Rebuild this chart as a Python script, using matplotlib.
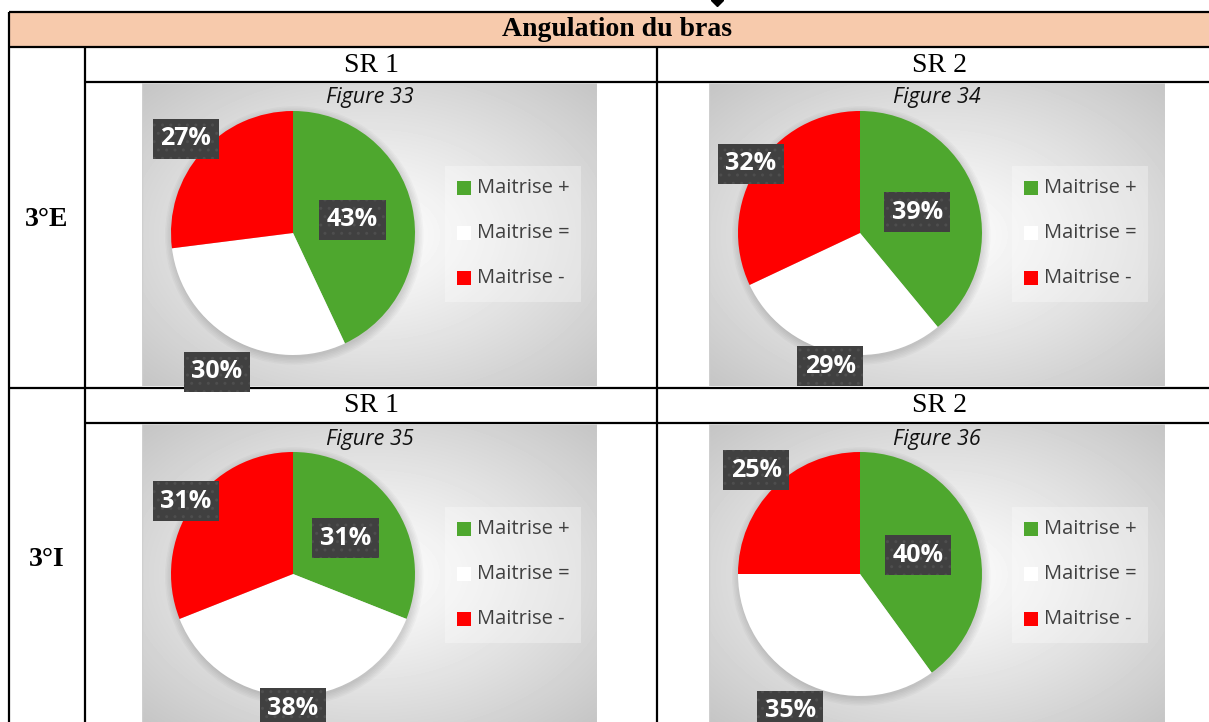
import numpy as np
import matplotlib
matplotlib.use("Agg")
import matplotlib.pyplot as plt
from matplotlib.patches import Rectangle, Circle

W, H = 1209, 722

# ------------------------------------------------------------------
# Data
# ------------------------------------------------------------------
categories = ["Maitrise +", "Maitrise =", "Maitrise -"]
slice_colors = ["#4ea72e", "#ffffff", "#ff0000"]

fig33 = [43, 30, 27]
fig34 = [39, 29, 32]
fig35 = [31, 38, 31]
fig36 = [40, 35, 25]
titles = ["Figure 33", "Figure 34", "Figure 35", "Figure 36"]

header = "Angulation du bras"
row_labels = ["3°E", "3°I"]
col_labels = ["SR 1", "SR 2"]

# label distance from pie centre (Excel "best fit" placement)
label_dist = [[0.50, 1.30, 1.17],
              [0.50, 1.12, 1.06],
              [0.52, 1.10, 1.06],
              [0.50, 1.26, 1.20]]

SERIF = "Liberation Serif"
SANS = "Open Sans"


def frect(x, y, w, h):
    """pixel box (top-left origin) -> figure fraction rect"""
    return [x / W, 1 - (y + h) / H, w / W, h / H]


def gradient(w, h):
    yy, xx = np.mgrid[0:h, 0:w]
    r = np.hypot((xx - w * 0.5) / (w / 2), (yy - h * 0.5) / (h / 2))
    return 1 - 0.157 * r ** 1.1


fig = plt.figure(figsize=(W / 100, H / 100), dpi=100)

# ------------------------------------------------------------------
# Table grid
# ------------------------------------------------------------------
ax0 = fig.add_axes([0, 0, 1, 1])
ax0.set_xlim(0, W)
ax0.set_ylim(H, 0)
ax0.axis("off")

R_EDGE = 1225
ax0.add_patch(Rectangle((9, 12), R_EDGE - 9, 35, fc="#f7caac", ec="none"))
lw = 1.6
ax0.hlines([12, 47, 388], 9, R_EDGE, color="black", lw=lw)
ax0.hlines([82, 423], 85, R_EDGE, color="black", lw=lw)
ax0.vlines(9, 12, H + 5, color="black", lw=lw)
ax0.vlines([85, 657], 47, H + 5, color="black", lw=lw)

# anchor mark of the caption above the table (cut off in the page)
ax0.plot([717], [0], marker="D", ms=6, color="black", clip_on=False)

ax0.text(617, 30, header, ha="center", va="center", fontsize=20,
         weight="bold", family=SERIF)
for i, lab in enumerate(row_labels):
    ax0.text(47, [220, 560][i], lab, ha="center", va="center", fontsize=20,
             weight="bold", family=SERIF)
    for j, c in enumerate(col_labels):
        ax0.text([371, 940][j], [65, 406][i], c, ha="center", va="center",
                 fontsize=20, family=SERIF)

# ------------------------------------------------------------------
# Pie charts
# ------------------------------------------------------------------
panels = [(142, 83, 455, 303), (709, 83, 456, 303),
          (142, 424, 455, 300), (709, 424, 456, 300)]
series = [fig33, fig34, fig35, fig36]
PCX, PCY, PR = 151, 150, 122

for k, (px, py, pw, ph) in enumerate(panels):
    ax = fig.add_axes(frect(px, py, pw, ph))
    ax.imshow(gradient(pw, ph), cmap="gray", vmin=0, vmax=1,
              extent=(0, pw, ph, 0), aspect="auto", interpolation="bilinear")
    ax.set_xlim(0, pw)
    ax.set_ylim(ph, 0)
    ax.axis("off")
    ax.add_patch(Rectangle((0, 0), pw, ph, fc="none", ec="#cfcfcf", lw=1))

    ax.text(pw / 2, 15, titles[k], ha="center", va="center", fontsize=15.5,
            style="italic", family=SANS, color="#111111")

    # legend
    ax.add_patch(Rectangle((303, 83), 136, 136, fc="white", alpha=0.3, ec="none"))
    for i, cat in enumerate(categories):
        yy = 105 + 45 * i
        ax.add_patch(Rectangle((315, yy - 7), 14, 14, fc=slice_colors[i], ec="none"))
        ax.text(335, yy, cat, ha="left", va="center", fontsize=14.5,
                family=SANS, color="#404040")

    pax = fig.add_axes(frect(px + PCX - PR, py + PCY - PR, 2 * PR, 2 * PR))
    for s in range(6):
        pax.add_patch(Circle((0.01, -0.02), 1 + 0.012 * s, fc="black",
                             alpha=0.025, ec="none", clip_on=False))
    wedges, _ = pax.pie(series[k], colors=slice_colors, startangle=90,
                        counterclock=False, radius=1,
                        wedgeprops=dict(linewidth=0))
    pax.set_xlim(-1, 1)
    pax.set_ylim(-1, 1)
    pax.axis("off")
    for i, (w, v) in enumerate(zip(wedges, series[k])):
        ang = np.deg2rad((w.theta1 + w.theta2) / 2)
        d = label_dist[k][i]
        pax.text(d * np.cos(ang), d * np.sin(ang), f"{v}%", ha="center",
                 va="center", fontsize=18, weight="bold", color="white",
                 family=SANS, clip_on=False, zorder=6,
                 bbox=dict(boxstyle="square,pad=0.3", fc="#404040",
                           ec="#4e4e4e", lw=0, hatch=".."))

fig.savefig("out.png", dpi=100)
